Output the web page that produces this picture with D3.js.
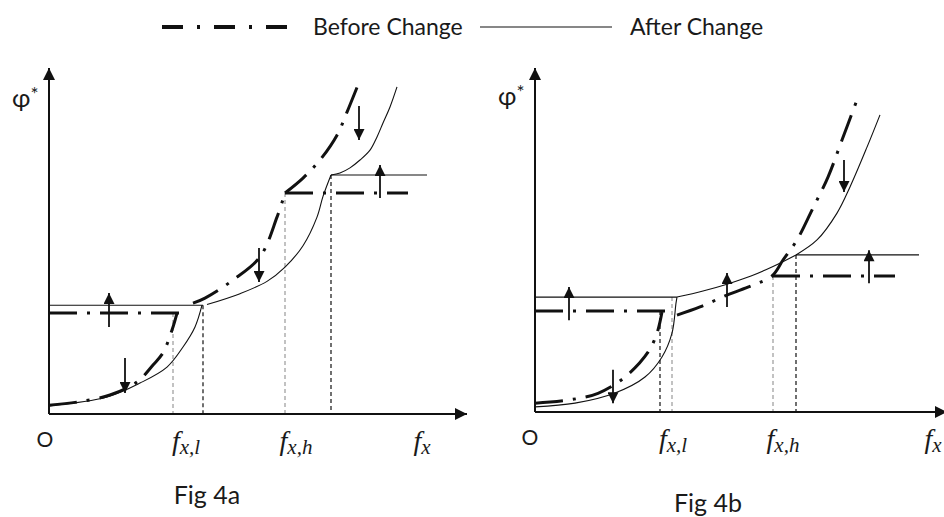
<!DOCTYPE html>
<html>
<head>
<meta charset="utf-8">
<script src="https://cdn.jsdelivr.net/npm/d3@7"></script>
<style>
  body { margin: 0; background: #fff; }
  text { fill: #1a1a1a; }
</style>
</head>
<body>
<svg id="chart" width="944" height="517"></svg>
<script>
// Both panels use axis units 0..100 on x and y.

// Fig 4a
const aBeforeLow = [[0, 2.6], [7, 3.5], [15.25, 5.6], [22, 9.4], [26, 14.4], [28.5, 18], [30.75, 24.7], [32, 29.7]];
const aBeforeMid = [[36, 32.6], [39, 34.1], [46, 39.4], [52.75, 46.2], [57, 57.9], [59, 65]];
const aBeforeHigh = [[59, 65], [63.5, 69.4], [67.75, 74.7], [72, 82], [74.5, 88.8], [77.25, 96.8]];
const aBeforeFlat = [[[0, 29.7], [32.5, 29.7]], [[59, 65], [89.75, 65]]];
const aAfterLow = [[0, 2.4], [14.5, 5], [22.75, 9.1], [29.5, 13.8], [33.5, 19.7], [36.5, 25.6], [38.25, 32]];
const aAfterMid = [[39.5, 32.2], [47.75, 35.4], [54.5, 39], [59, 43.2], [63.5, 49.5], [67, 57.9], [68.5, 64], [70.5, 70.3]];
const aAfterHigh = [[70.5, 70.3], [72.75, 70.9], [75.25, 72.4], [77.75, 74.7], [80.25, 77.6], [82, 81.5], [83.5, 85.6], [85.25, 90.3], [87, 96.2]];
const aAfterFlat = [[[0, 32], [38.5, 32]], [[70.5, 70.3], [94.5, 70.3]]];
const aGuideX = [31, 38.5, 59, 70.5];
const aGuideTop = [29.7, 32, 65, 70.3];
// [x, from, to]
const aArrows = [[15, 25.6, 35.6], [19, 16.5, 6.2], [52.5, 48.8, 38.8], [77.5, 90.6, 80.6], [82.75, 63.5, 73.2]];
const aLabelX = [-1, 34.25, 61.75, 93.25];

// Fig 4b
const bBeforeLow = [[0, 2.6], [8.25, 3.5], [15.75, 5.5], [22.5, 10.3], [28.25, 17.6], [30.5, 23.2], [31.75, 29.4]];
const bBeforeMid = [[35.5, 28.5], [41.25, 30.9], [48, 34.4], [54.5, 37.3], [59.25, 40], [62, 44.7], [65.5, 50.6], [69.5, 60], [73.25, 69.1], [76.75, 80], [80.5, 91.8]];
const bBeforeFlat = [[[0, 29.7], [34.5, 29.7]], [[59.25, 40], [90, 40]]];
const bAfterLow = [[0, 1.5], [10, 2.6], [20, 5.6], [27.5, 10.3], [31.75, 16.2], [34.25, 23.2], [35.25, 32], [35.5, 33.8]];
const bAfterMid = [[35.5, 33.8], [42, 35.6], [48, 37.6], [54, 40], [59.5, 42.8], [65.25, 46.2]];
const bAfterHigh = [[65.25, 46.2], [70.5, 50.6], [75.5, 58.5], [78.75, 66.2], [83, 77.9], [86.25, 87.4]];
const bAfterFlat = [[[0, 33.8], [35.5, 33.8]], [[65.25, 46.2], [96, 46.2]]];
const bGuideX = [31.25, 34.25, 59.5, 65.25];
const bGuideTop = [29.7, 33.8, 40, 46.2];
const bArrows = [[8.5, 27, 36.8], [19.5, 12.4, 2.6], [48, 30.9, 40.9], [77.25, 74.1, 64.7], [83.5, 37.9, 47.6]];
const bLabelX = [-1.25, 34.5, 62, 99.5];

const axisLabels = [{ main: 'O' }, { main: 'f', sub: 'x,l' }, { main: 'f', sub: 'x,h' }, { main: 'f', sub: 'x' }];
const legendNames = ['Before Change', 'After Change'];
const figNames = ['Fig 4a', 'Fig 4b'];

const INK = '#111';
const GRAY = '#9a9a9a';
const DASH_DOT = '28,10,3,10';
const SANS = 'Lato, "Open Sans", sans-serif';
const MATH = '"Liberation Serif", "DejaVu Serif", serif';

const svg = d3.select('#chart');
const defs = svg.append('defs');

function marker(id, w, h) {
  defs.append('marker')
    .attr('id', id)
    .attr('viewBox', '0 0 10 10')
    .attr('refX', 10)
    .attr('refY', 5)
    .attr('markerUnits', 'userSpaceOnUse')
    .attr('markerWidth', w)
    .attr('markerHeight', h)
    .attr('orient', 'auto')
    .append('path')
      .attr('d', 'M0,0L10,5L0,10z')
      .attr('fill', INK);
}
marker('axisHead', 14, 12);
marker('shiftHead', 12, 11);

const panels = [
  {
    x: d3.scaleLinear().domain([0, 100]).range([49, 449]),
    y: d3.scaleLinear().domain([0, 100]).range([414, 74]),
    xEnd: 104.5, yEnd: 101.8,
    before: [aBeforeLow, aBeforeMid, aBeforeHigh], beforeFlat: aBeforeFlat,
    after: [aAfterLow, aAfterMid, aAfterHigh], afterFlat: aAfterFlat,
    guideX: aGuideX, guideTop: aGuideTop, guideShade: [GRAY, INK, GRAY, INK],
    arrows: aArrows, labelX: aLabelX, figX: 39.5, figY: 504,
  },
  {
    x: d3.scaleLinear().domain([0, 100]).range([535, 935]),
    y: d3.scaleLinear().domain([0, 100]).range([412, 72]),
    xEnd: 103, yEnd: 101.2,
    before: [bBeforeLow, bBeforeMid], beforeFlat: bBeforeFlat,
    after: [bAfterLow, bAfterMid, bAfterHigh], afterFlat: bAfterFlat,
    guideX: bGuideX, guideTop: bGuideTop, guideShade: [INK, GRAY, GRAY, INK],
    arrows: bArrows, labelX: bLabelX, figX: 43.25, figY: 512,
  },
];

panels.forEach((p, i) => {
  const g = svg.append('g');
  const { x, y } = p;
  const curve = d3.line()
    .x(d => x(d[0]))
    .y(d => y(d[1]))
    .curve(d3.curveCatmullRom.alpha(0.5));
  const straight = d3.line()
    .x(d => x(d[0]))
    .y(d => y(d[1]));

  // guide lines down to the axis
  g.append('g')
    .selectAll('line')
    .data(p.guideX)
    .enter().append('line')
      .attr('x1', d => x(d))
      .attr('x2', d => x(d))
      .attr('y1', (d, k) => y(p.guideTop[k]))
      .attr('y2', y(0))
      .attr('stroke', (d, k) => p.guideShade[k])
      .attr('stroke-width', 1.2)
      .attr('stroke-dasharray', '4,3');

  // after change
  g.append('g')
    .attr('fill', 'none')
    .attr('stroke', INK)
    .attr('stroke-width', 1.1)
    .selectAll('path')
    .data(p.after.map(curve).concat(p.afterFlat.map(straight)))
    .enter().append('path')
      .attr('d', d => d);

  // before change
  g.append('g')
    .attr('fill', 'none')
    .attr('stroke', INK)
    .attr('stroke-width', 3)
    .attr('stroke-dasharray', DASH_DOT)
    .selectAll('path')
    .data(p.before.map(curve).concat(p.beforeFlat.map(straight)))
    .enter().append('path')
      .attr('d', d => d);

  // shift arrows
  g.append('g')
    .selectAll('line')
    .data(p.arrows)
    .enter().append('line')
      .attr('x1', d => x(d[0]))
      .attr('x2', d => x(d[0]))
      .attr('y1', d => y(d[1]))
      .attr('y2', d => y(d[2]))
      .attr('stroke', INK)
      .attr('stroke-width', 1.8)
      .attr('marker-end', 'url(#shiftHead)');

  // axes
  g.append('line')
    .attr('x1', x(0)).attr('x2', x(p.xEnd))
    .attr('y1', y(0)).attr('y2', y(0))
    .attr('stroke', INK).attr('stroke-width', 2)
    .attr('marker-end', 'url(#axisHead)');
  g.append('line')
    .attr('x1', x(0)).attr('x2', x(0))
    .attr('y1', y(0)).attr('y2', y(p.yEnd))
    .attr('stroke', INK).attr('stroke-width', 2)
    .attr('marker-end', 'url(#axisHead)');

  const phi = g.append('text')
    .attr('x', x(0) - 37)
    .attr('y', y(0) - 307)
    .attr('font-family', SANS)
    .attr('font-size', 25);
  phi.append('tspan').text('φ');
  phi.append('tspan').attr('dy', -6).attr('font-size', 19).text('*');

  // axis labels
  axisLabels.forEach((lab, k) => {
    const t = g.append('text')
      .attr('x', x(p.labelX[k]))
      .attr('y', y(0) + (lab.sub ? 36 : 33))
      .attr('text-anchor', 'middle');
    if (!lab.sub) {
      t.attr('font-family', SANS).attr('font-size', 21).text(lab.main);
      return;
    }
    t.attr('font-family', MATH).attr('font-style', 'italic');
    t.append('tspan').attr('font-size', 28).text(lab.main);
    t.append('tspan').attr('font-size', 21).attr('dy', 4).text(lab.sub);
  });

  g.append('text')
    .attr('x', x(p.figX))
    .attr('y', p.figY)
    .attr('text-anchor', 'middle')
    .attr('font-family', SANS)
    .attr('font-size', 25)
    .text(figNames[i]);
});

// legend
const legend = svg.append('g').attr('transform', 'translate(0, 27)');
const legendX = d3.scaleOrdinal().domain(legendNames).range([162, 480]);
legend.selectAll('line')
  .data(legendNames)
  .enter().append('line')
    .attr('x1', d => legendX(d))
    .attr('x2', (d, k) => legendX(d) + (k === 0 ? 128 : 132))
    .attr('stroke', INK)
    .attr('stroke-width', (d, k) => k === 0 ? 4 : 1.2)
    .attr('stroke-dasharray', (d, k) => k === 0 ? '21,14,3,14' : null);
legend.selectAll('text')
  .data(legendNames)
  .enter().append('text')
    .attr('x', (d, k) => legendX(d) + (k === 0 ? 151 : 150))
    .attr('y', 8)
    .attr('font-family', SANS)
    .attr('font-size', 23)
    .text(d => d);
</script>
</body>
</html>
